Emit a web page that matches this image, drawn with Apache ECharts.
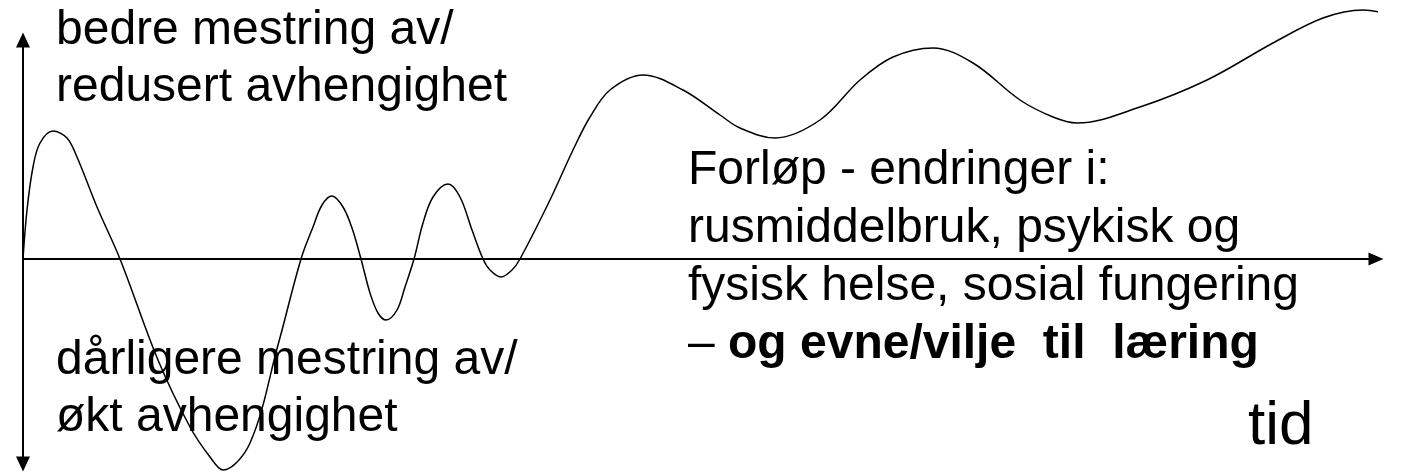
<!DOCTYPE html>
<html>
<head>
<meta charset="utf-8">
<title>Forløp</title>
<script src="https://cdn.jsdelivr.net/npm/echarts@6/dist/echarts.min.js"></script>
<style>
  html, body { margin: 0; padding: 0; background: #fff; }
  #chart { width: 1406px; height: 472px; }
</style>
</head>
<body>
<div id="chart"></div>
<script>
// kurven: x = tid, y = mestring (0 = aksen)
const curveX = [0, 4, 10, 17, 30, 44, 54, 74, 97, 135, 167, 187, 200, 227, 255, 278, 290, 299, 309, 320, 329, 338,
  347, 355, 363, 374, 382, 391, 400, 410, 425, 437, 449, 460, 467, 478, 489, 497,
  527, 550, 567, 587, 620, 660, 697, 717, 752, 797, 837, 870, 910, 950, 997, 1030, 1054,
  1117, 1184, 1250, 1300, 1340, 1375]
const curveY = [0, 49, 92, 116, 128, 121, 102, 52, 0, -101, -168, -198, -211, -184, -86, 0, 32, 54, 63, 52, 31, 0,
  -34, -54, -61, -51, -28, 0, 36, 62, 75, 62, 29, 0, -11, -18, -11, 0,
  59, 109, 142, 169, 184, 169, 144, 131, 121, 139, 179, 202, 211, 196, 159, 142, 136,
  152, 179, 216, 241, 249, 242]

const topLines = ['bedre mestring av/', 'redusert avhengighet']
const bottomLines = ['dårligere mestring av/', 'økt avhengighet']
const rightLines = ['Forløp - endringer i:', 'rusmiddelbruk, psykisk og', 'fysisk helse, sosial fungering']
const rightDash = '– '
const rightBold = 'og evne/vilje  til  læring'
const timeLabel = 'tid'

const font = '"Liberation Sans", Arial, sans-serif'

const chart = echarts.init(document.getElementById('chart'))

const axisLineStyle = { color: '#000', width: 2 }

chart.setOption({
  animation: false,
  backgroundColor: '#fff',
  grid: { left: 23, right: 30, top: 40, bottom: 8, containLabel: false, outerBoundsMode: 'none' },
  xAxis: {
    type: 'value',
    min: 0,
    max: 1353,
    axisLine: { onZero: true, symbol: ['none', 'triangle'], symbolSize: [13, 15], lineStyle: axisLineStyle },
    axisTick: { show: false },
    axisLabel: { show: false },
    splitLine: { show: false }
  },
  yAxis: {
    type: 'value',
    min: -205,
    max: 219,
    axisLine: { onZero: true, symbol: ['triangle', 'triangle'], symbolSize: [14, 15], lineStyle: axisLineStyle },
    axisTick: { show: false },
    axisLabel: { show: false },
    splitLine: { show: false }
  },
  series: [
    {
      type: 'line',
      data: curveX.map((x, i) => [x, curveY[i]]),
      smooth: 0.35,
      showSymbol: false,
      clip: false,
      lineStyle: { color: '#000', width: 1.5 },
      z: 1
    }
  ],
  graphic: [
    {
      type: 'text', left: 56, top: 2, z: 10,
      style: { text: topLines.join('\n'), font: '48px ' + font, fill: '#000', lineHeight: 57 }
    },
    {
      type: 'text', left: 56, top: 332, z: 10,
      style: { text: bottomLines.join('\n'), font: '48px ' + font, fill: '#000', lineHeight: 57 }
    },
    {
      type: 'text', left: 688, top: 142, z: 10,
      style: {
        text: rightLines.join('\n') + '\n{n|' + rightDash + '}{b|' + rightBold + '}',
        font: '48px ' + font, fill: '#000', lineHeight: 58,
        rich: {
          n: { font: '48px ' + font, fill: '#000', lineHeight: 58 },
          b: { font: 'bold 48px ' + font, fill: '#000', lineHeight: 58 }
        }
      }
    },
    {
      type: 'text', left: 1248, top: 396, z: 10,
      style: { text: timeLabel, font: '62px ' + font, fill: '#000', lineHeight: 62 }
    }
  ]
})
</script>
</body>
</html>
